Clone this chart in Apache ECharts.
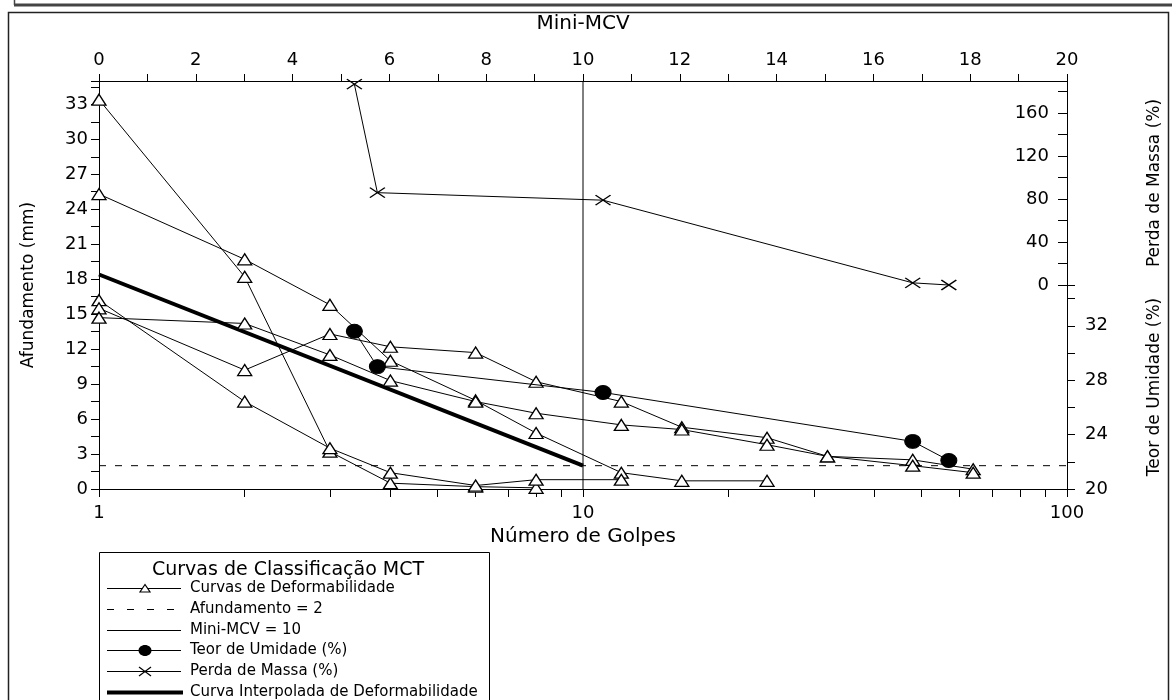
<!DOCTYPE html>
<html>
<head>
<meta charset="utf-8">
<script src="https://cdn.jsdelivr.net/npm/echarts@6/dist/echarts.min.js"></script>
<style>
html,body{margin:0;padding:0;background:#fff;}
#chart{width:1172px;height:700px;}
</style>
</head>
<body>
<div id="chart"></div>
<script>
// ---- Data ----
// Deformability curves: number of blows (golpes) vs afundamento (mm)
const golpesCurva1 = [1, 2, 3, 4, 6, 8];
const afundCurva1  = [33.4, 18.2, 3.2, 0.5, 0.2, 0.1];
const golpesCurva2 = [1, 2, 3, 4, 6, 8, 12, 16, 24];
const afundCurva2  = [25.3, 19.7, 15.8, 11.0, 7.6, 4.8, 1.4, 0.7, 0.7];
const golpesCurva3 = [1, 2, 3, 4, 6, 8, 12];
const afundCurva3  = [16.2, 7.5, 3.5, 1.4, 0.3, 0.8, 0.8];
const golpesCurva4 = [1, 2, 3, 4, 6, 8, 12, 16, 24, 32, 48, 64];
const afundCurva4  = [15.5, 10.2, 13.3, 12.2, 11.7, 9.2, 7.5, 5.3, 4.4, 2.8, 2.5, 1.7];
const golpesCurva5 = [1, 2, 3, 4, 6, 8, 12, 16, 24, 32, 48, 64];
const afundCurva5  = [14.7, 14.2, 11.5, 9.3, 7.5, 6.5, 5.5, 5.1, 3.8, 2.8, 2.0, 1.4];

// Moisture content and mass loss at each Mini-MCV point
const golpesMCV = [3.37, 3.76, 11.0, 48, 57];
const teorUmidade = [31.6, 29.0, 27.1, 23.5, 22.1];
const perdaMassa = [187, 86, 79, 2, 0];

// Interpolated deformability curve
const golpesInterp = [1, 10];
const afundInterp = [18.4, 2.0];

// Reference lines
const linhaAfundGolpes = [1, 100];
const linhaAfundValor = 2;
const linhaMCVGolpes = 10;
const linhaMCVAfund = [0, 35];

// Tick labels / tick positions
const golpesLabels = [1, 10, 100];
const golpesTicks = [1,2,3,4,5,6,7,8,9,10,20,30,40,50,60,70,80,90,100];

// Legend entries
const legendNames = [
  'Curvas de Deformabilidade',
  'Afundamento = 2',
  'Mini-MCV = 10',
  'Teor de Umidade (%)',
  'Perda de Massa (%)',
  'Curva Interpolada de Deformabilidade'
];
const legendTitle = 'Curvas de Classificação MCT';

const zip = (xs, ys) => xs.map((x, i) => [x, ys[i]]);

const FONT = '"DejaVu Sans", "Liberation Sans", Arial, sans-serif';
const BLACK = '#000';
const [NAME_DEF, NAME_AF, NAME_MCV, NAME_TEOR, NAME_PERDA, NAME_INT] = legendNames;

const gridL = 99, gridR = 105, gridTop = 81, gridBottom = 211;

function defSeries(xs, ys) {
  return {
    name: NAME_DEF, type: 'line', xAxisIndex: 0, yAxisIndex: 0,
    data: zip(xs, ys),
    symbol: 'triangle', symbolSize: [14, 11],
    lineStyle: { color: BLACK, width: 1 },
    itemStyle: { color: '#fff', borderColor: BLACK, borderWidth: 1.3 },
    clip: false, z: 3
  };
}

// ---- Hand-drawn legend box (icons + text) ----
const LG = { x0: 107, x1: 181, tx: 190, y0: 588, dy: 20.8 };
const legendGraphics = [
  { type: 'rect', shape: { x: 99.5, y: 552.5, width: 390, height: 160 }, style: { fill: '#fff', stroke: BLACK, lineWidth: 1 }, z: 0 },
  { type: 'text', x: 152, y: 570, style: { text: legendTitle, font: '19px ' + FONT, fill: BLACK, textAlign: 'left', textVerticalAlign: 'middle' }, z: 10 }
];
legendNames.forEach((name, i) => {
  const y = Math.round(LG.y0 + i * LG.dy) + 0.5;
  const mid = (LG.x0 + LG.x1) / 2 + 1;
  let lineStyle = { stroke: BLACK, lineWidth: 1 };
  if (i === 1) lineStyle = { stroke: BLACK, lineWidth: 1, lineDash: [7, 13] };
  if (i === 5) lineStyle = { stroke: BLACK, lineWidth: 4 };
  legendGraphics.push({ type: 'line', shape: { x1: LG.x0, y1: y, x2: i === 5 ? LG.x1 + 2 : LG.x1, y2: y }, style: lineStyle, z: 10 });
  if (i === 0) legendGraphics.push({ type: 'polygon', shape: { points: [[mid - 5, y + 3.5], [mid + 5, y + 3.5], [mid, y - 4]] }, style: { fill: '#fff', stroke: BLACK, lineWidth: 1.2 }, z: 11 });
  if (i === 3) legendGraphics.push({ type: 'ellipse', shape: { cx: mid, cy: y, rx: 6.5, ry: 5.5 }, style: { fill: BLACK }, z: 11 });
  if (i === 4) legendGraphics.push({ type: 'polyline', shape: { points: [[mid - 6, y - 4.5], [mid + 6, y + 4.5]] }, style: { stroke: BLACK, lineWidth: 1.2 }, z: 11 },
                                   { type: 'polyline', shape: { points: [[mid + 6, y - 4.5], [mid - 6, y + 4.5]] }, style: { stroke: BLACK, lineWidth: 1.2 }, z: 11 });
  legendGraphics.push({ type: 'text', x: LG.tx, y: y, style: { text: name, font: '15px ' + FONT, fill: BLACK, textAlign: 'left', textVerticalAlign: 'middle' }, z: 10 });
});

const chart = echarts.init(document.getElementById('chart'), null, { renderer: 'canvas' });

const tickLabel = { fontSize: 18, fontFamily: FONT, color: BLACK };
const nameStyle = { fontSize: 17, fontFamily: FONT, color: BLACK };

const option = {
  animation: false,
  backgroundColor: '#fff',
  textStyle: { fontFamily: FONT, color: BLACK },
  grid: [
    { left: gridL, right: gridR, top: gridTop, bottom: gridBottom },
    { left: gridL, right: gridR, top: gridTop, height: 204 },
    { left: gridL, right: gridR, top: 285, height: 204 }
  ],
  xAxis: [
    {
      type: 'log', logBase: 10, min: 1, max: 100, gridIndex: 0, position: 'bottom',
      name: 'Número de Golpes', nameLocation: 'middle', nameGap: 34,
      nameTextStyle: { fontSize: 20, fontFamily: FONT, color: BLACK },
      axisLine: { lineStyle: { color: BLACK, width: 1 } },
      axisTick: { show: true, length: 8, customValues: golpesTicks, lineStyle: { color: BLACK } },
      axisLabel: Object.assign({ margin: 15, customValues: golpesLabels }, tickLabel),
      splitLine: { show: false }
    },
    {
      type: 'value', min: 0, max: 20, interval: 2, gridIndex: 0, position: 'top',
      name: 'Mini-MCV', nameLocation: 'middle', nameGap: 47,
      nameTextStyle: { fontSize: 20, fontFamily: FONT, color: BLACK },
      axisLine: { lineStyle: { color: BLACK, width: 1 } },
      axisTick: { length: 7, lineStyle: { color: BLACK } },
      minorTick: { show: true, splitNumber: 2, length: 7, lineStyle: { color: BLACK } },
      axisLabel: Object.assign({ margin: 12 }, tickLabel),
      splitLine: { show: false }
    },
    { type: 'log', logBase: 10, min: 1, max: 100, gridIndex: 1, show: false },
    { type: 'log', logBase: 10, min: 1, max: 100, gridIndex: 2, show: false }
  ],
  yAxis: [
    {
      type: 'value', min: 0, max: 35, interval: 3, gridIndex: 0, position: 'left',
      name: 'Afundamento (mm)', nameLocation: 'middle', nameGap: 62,
      nameTextStyle: nameStyle,
      axisLine: { show: true, lineStyle: { color: BLACK, width: 1 } },
      axisTick: { length: 8, lineStyle: { color: BLACK } },
      minorTick: { show: true, splitNumber: 2, length: 8, lineStyle: { color: BLACK } },
      axisLabel: Object.assign({ margin: 11, showMaxLabel: false }, tickLabel),
      splitLine: { show: false }
    },
    {
      type: 'value', min: 0, max: 190, interval: 40, gridIndex: 1, position: 'right',
      name: NAME_PERDA, nameLocation: 'middle', nameGap: 79, nameRotate: 90,
      nameTextStyle: nameStyle,
      axisLine: { show: true, lineStyle: { color: BLACK, width: 1 } },
      axisTick: { inside: true, length: 9, lineStyle: { color: BLACK } },
      minorTick: { show: true, splitNumber: 2, length: 9, lineStyle: { color: BLACK } },
      axisLabel: Object.assign({ inside: true, margin: 18, showMaxLabel: false }, tickLabel),
      splitLine: { show: false }
    },
    {
      type: 'value', min: 20, max: 35, interval: 4, gridIndex: 2, position: 'right',
      name: NAME_TEOR, nameLocation: 'middle', nameGap: 79, nameRotate: 90,
      nameTextStyle: nameStyle,
      axisLine: { show: true, lineStyle: { color: BLACK, width: 1 } },
      axisTick: { length: 8, lineStyle: { color: BLACK } },
      minorTick: { show: true, splitNumber: 2, length: 8, lineStyle: { color: BLACK } },
      axisLabel: Object.assign({ margin: 18, showMaxLabel: false }, tickLabel),
      splitLine: { show: false }
    }
  ],
  graphic: [
    { type: 'rect', shape: { x: 8.5, y: 12.5, width: 1160, height: 700 }, style: { fill: 'none', stroke: '#222', lineWidth: 1.5 }, z: 0 },
    { type: 'line', shape: { x1: 14, y1: 5, x2: 1172, y2: 5 }, style: { stroke: '#444', lineWidth: 3 } },
    { type: 'line', shape: { x1: 14.5, y1: 0, x2: 14.5, y2: 5 }, style: { stroke: '#444', lineWidth: 1.5 } }
  ].concat(legendGraphics),
  series: [
    defSeries(golpesCurva1, afundCurva1),
    defSeries(golpesCurva2, afundCurva2),
    defSeries(golpesCurva3, afundCurva3),
    defSeries(golpesCurva4, afundCurva4),
    defSeries(golpesCurva5, afundCurva5),
    {
      name: NAME_AF, type: 'line', xAxisIndex: 0, yAxisIndex: 0,
      data: linhaAfundGolpes.map(g => [g, linhaAfundValor]),
      symbol: 'none', lineStyle: { color: BLACK, width: 1, type: [7, 9] }, z: 2
    },
    {
      name: NAME_MCV, type: 'line', xAxisIndex: 0, yAxisIndex: 0,
      data: linhaMCVAfund.map(a => [linhaMCVGolpes, a]),
      symbol: 'none', lineStyle: { color: BLACK, width: 1 }, z: 2
    },
    {
      name: NAME_TEOR, type: 'line', xAxisIndex: 3, yAxisIndex: 2,
      data: zip(golpesMCV, teorUmidade),
      symbol: 'circle', symbolSize: [16, 14],
      lineStyle: { color: BLACK, width: 1 },
      itemStyle: { color: BLACK, borderColor: BLACK },
      clip: false, z: 4
    },
    {
      name: NAME_PERDA, type: 'line', xAxisIndex: 2, yAxisIndex: 1,
      data: zip(golpesMCV, perdaMassa),
      symbol: 'path://M0,0L10,10M10,0L0,10', symbolSize: [15, 10],
      lineStyle: { color: BLACK, width: 1 },
      itemStyle: { color: 'none', borderColor: BLACK, borderWidth: 1.3 },
      clip: false, z: 4
    },
    {
      name: NAME_INT, type: 'line', xAxisIndex: 0, yAxisIndex: 0,
      data: zip(golpesInterp, afundInterp),
      symbol: 'none', lineStyle: { color: BLACK, width: 4 }, z: 3
    }
  ]
};

chart.setOption(option);
</script>
</body>
</html>
